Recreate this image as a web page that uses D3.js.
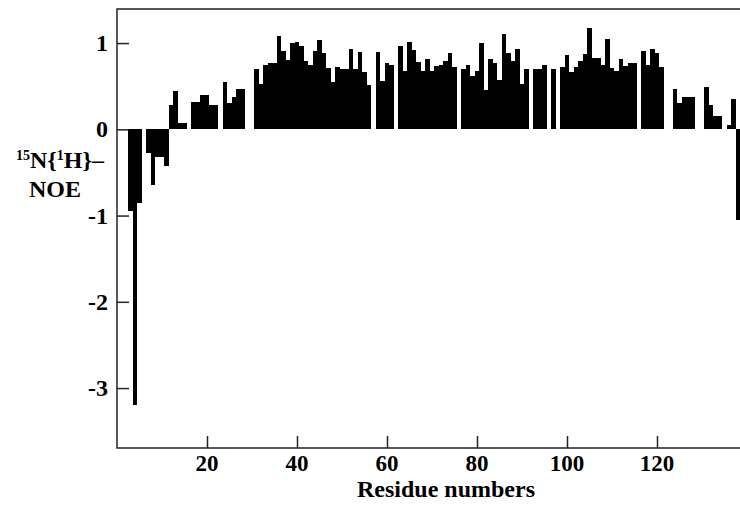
<!DOCTYPE html>
<html>
<head>
<meta charset="utf-8">
<script src="https://cdn.jsdelivr.net/npm/d3@7"></script>
<style>
  body { margin: 0; background: #fff; }
  svg text { font-family: "Liberation Serif", "Times New Roman", serif; font-weight: bold; fill: #000; }
</style>
</head>
<body>
<div id="container"></div>
<script>
// 15N{1H} NOE per residue, residue 1 first; null = no value
const noe = [
  null, null, -0.95, -3.2, -0.86, null, -0.27, -0.65, -0.32, -0.32,
  -0.42, 0.28, 0.45, 0.07, 0.07, null, 0.32, 0.32, 0.40, 0.40,
  0.28, 0.28, null, 0.55, 0.30, 0.38, 0.47, 0.47, null, null,
  0.70, 0.53, 0.74, 0.77, 0.77, 1.08, 0.91, 0.80, 1.00, 1.01,
  0.97, 0.79, 0.74, 0.91, 1.03, 0.88, 0.71, 0.55, 0.72, 0.70,
  0.70, 0.93, 0.70, 0.90, 0.66, 0.51, null, 0.90, 0.56, 0.77,
  0.74, null, 0.97, 0.68, 1.01, 0.92, 0.78, 0.68, 0.81, 0.68,
  0.73, 0.74, 0.79, 0.89, 0.72, null, 0.70, 0.74, 0.62, 0.68,
  1.00, 0.46, 0.81, 0.77, 0.57, 1.10, 0.89, 0.79, 0.93, 0.53,
  0.70, null, 0.70, 0.70, 0.74, null, 0.70, null, 0.72, 0.86,
  0.67, 0.72, 0.79, 0.87, 1.17, 0.83, 0.83, 0.74, 1.05, 0.71,
  0.68, 0.81, 0.73, 0.77, 0.77, null, 0.91, 0.74, 0.93, 0.89,
  0.72, null, null, 0.47, 0.31, 0.38, 0.38, 0.38, null, null,
  0.49, 0.28, 0.16, 0.16, null, 0.05, 0.35, -1.05
];
const firstResidue = 1;
const xTicks = [20, 40, 60, 80, 100, 120];
const yTicks = [-3, -2, -1, 0, 1];
const xLabel = "Residue numbers";

const w = 740;
const h = 510;
const plotLeft = 117, plotTop = 9, plotBottom = 448;

const data = noe.map((v, i) => ({ residue: firstResidue + i, value: v }))
  .filter(d => d.value !== null);

const xScale = d3.scaleLinear().domain([0, 138.6]).range([plotLeft, plotLeft + 4.5 * 138.6]);
const yScale = d3.scaleLinear().domain([-3.695, 1.395]).range([plotBottom, plotTop]);

const svg = d3.select("#container")
  .append("svg")
  .attr("width", w)
  .attr("height", h);

// whole-pixel edges so neighbouring bars join without seams
const x0 = d => Math.round(xScale(d.residue - 0.5));
const x1 = d => Math.round(xScale(d.residue + 0.5));

svg.append("g")
  .attr("shape-rendering", "crispEdges")
  .selectAll("rect")
  .data(data)
  .enter()
  .append("rect")
  .attr("x", x0)
  .attr("width", d => x1(d) - x0(d))
  .attr("y", d => yScale(Math.max(0, d.value)))
  .attr("height", d => Math.abs(yScale(d.value) - yScale(0)))
  .attr("fill", "#000");

// frame (right side runs off the picture)
svg.append("rect")
  .attr("x", plotLeft)
  .attr("y", plotTop)
  .attr("width", w + 10 - plotLeft)
  .attr("height", plotBottom - plotTop)
  .attr("fill", "none")
  .attr("stroke", "#222")
  .attr("stroke-width", 1.5);

const xAxis = d3.axisTop(xScale).tickValues(xTicks).tickSize(12).tickFormat("");
svg.append("g")
  .attr("transform", `translate(0, ${plotBottom})`)
  .call(xAxis)
  .call(g => g.select(".domain").remove())
  .call(g => g.selectAll("line").attr("stroke", "#222").attr("stroke-width", 1.5));

svg.append("g")
  .selectAll("text")
  .data(xTicks)
  .enter()
  .append("text")
  .attr("x", d => xScale(d))
  .attr("y", plotBottom + 23)
  .attr("text-anchor", "middle")
  .style("font-size", "23px")
  .text(d => d);

const yAxis = d3.axisRight(yScale).tickValues(yTicks).tickSize(12).tickFormat("");
svg.append("g")
  .attr("transform", `translate(${plotLeft}, 0)`)
  .call(yAxis)
  .call(g => g.select(".domain").remove())
  .call(g => g.selectAll("line").attr("stroke", "#222").attr("stroke-width", 1.5));

svg.append("g")
  .selectAll("text")
  .data(yTicks)
  .enter()
  .append("text")
  .attr("x", plotLeft - 9)
  .attr("y", d => yScale(d) + 8)
  .attr("text-anchor", "end")
  .style("font-size", "24px")
  .text(d => d);

svg.append("text")
  .attr("x", 446)
  .attr("y", plotBottom + 49)
  .attr("text-anchor", "middle")
  .style("font-size", "24px")
  .text(xLabel);

const yLab = svg.append("text")
  .attr("x", 60)
  .attr("y", 168)
  .attr("text-anchor", "middle")
  .style("font-size", "24px");
yLab.append("tspan").attr("font-size", "14px").attr("dy", "-8").text("15");
yLab.append("tspan").attr("dy", "8").text("N{");
yLab.append("tspan").attr("font-size", "14px").attr("dy", "-8").text("1");
yLab.append("tspan").attr("dy", "8").text("H}–");

svg.append("text")
  .attr("x", 55)
  .attr("y", 197)
  .attr("text-anchor", "middle")
  .style("font-size", "24px")
  .text("NOE");
</script>
</body>
</html>
